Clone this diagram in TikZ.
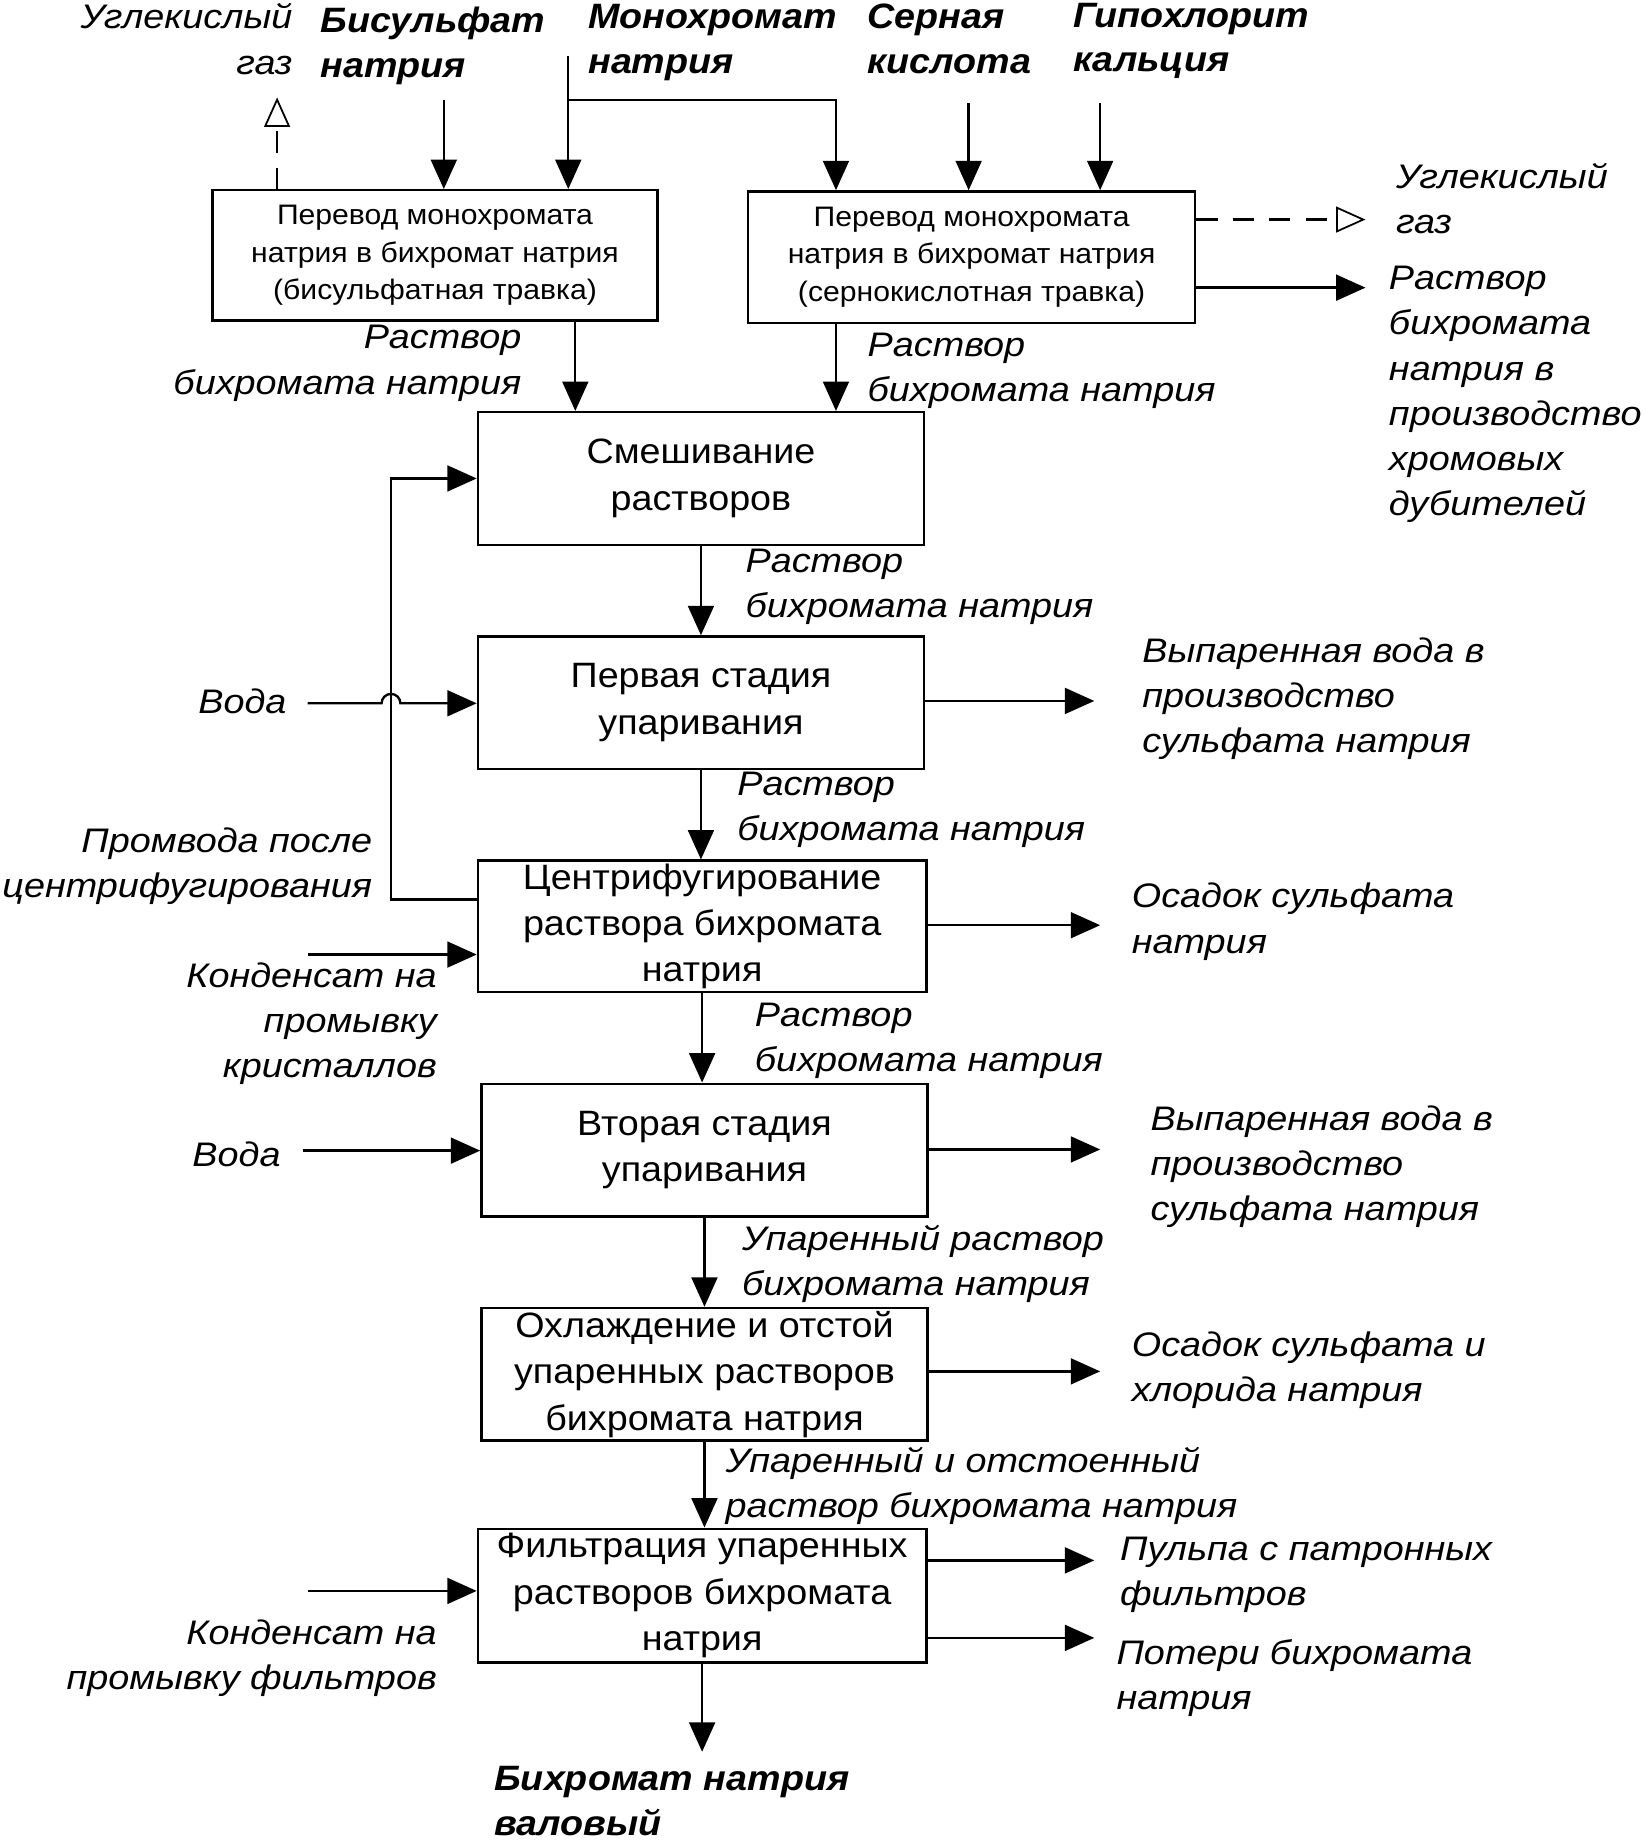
\documentclass[tikz,border=0pt]{standalone}
\usepackage{fontspec}
\setmainfont{Liberation Sans}
\newfontfamily\smallboxfont[FakeStretch=1.07]{Liberation Sans}
\newfontfamily\boxfont[FakeStretch=1.07]{Liberation Sans}
\newfontfamily\labfont[FakeStretch=1.11]{Liberation Sans}
\newfontfamily\blabfont[FakeStretch=1.07]{Liberation Sans}
\usetikzlibrary{arrows.meta,calc}
\newcommand\LS{\rule[-0.2em]{0pt}{1em}}
\begin{document}
\begin{tikzpicture}[x={(1pt,0)},y={(0,-1pt)},
  line width=2pt,
  box/.style={draw,line width=2pt,inner sep=0pt,align=center,
    execute at begin node=\LS,execute at end node=\LS,
    font=\boxfont\fontsize{30}{39.5}\selectfont},
  smallbox/.style={box,font=\smallboxfont\fontsize{24}{32}\selectfont},
  lab/.style={inner sep=0pt,execute at begin node=\LS,execute at end node=\LS,
    font=\labfont\fontsize{29}{38.5}\selectfont\itshape},
  blab/.style={lab,font=\blabfont\fontsize{30}{38}\selectfont\bfseries\itshape},
  arr/.style={-{Triangle[length=25pt,width=22pt]}},
  oarr/.style={-{Triangle[open,length=25pt,width=22pt,line width=1.5pt]}},
  dsh/.style={dash pattern=on 18pt off 13pt}]
\useasboundingbox (0,0) rectangle (1399,1568);

% boxes
\node[smallbox,minimum width=379pt,minimum height=111pt] (b1) at (370.5,217.5)
  {Перевод монохромата\\натрия в бихромат натрия\\(бисульфатная травка)};
\node[smallbox,minimum width=381pt,minimum height=112pt] (b2) at (827.5,219)
  {Перевод монохромата\\натрия в бихромат натрия\\(сернокислотная травка)};
\node[box,minimum width=380pt,minimum height=113pt] (b3) at (597,407.5)
  {Смешивание\\растворов};
\node[box,minimum width=380pt,minimum height=113pt] (b4) at (597,598.5)
  {Первая стадия\\упаривания};
\node[box,minimum width=382pt,minimum height=112pt] (b5) at (598,789)
  {Центрифугирование\\раствора бихромата\\натрия};
\node[box,minimum width=380pt,minimum height=113pt] (b6) at (600,979.5)
  {Вторая стадия\\упаривания};
\node[box,minimum width=380pt,minimum height=113pt] (b7) at (600,1170.5)
  {Охлаждение и отстой\\упаренных растворов\\бихромата натрия};
\node[box,minimum width=382pt,minimum height=114pt] (b8) at (598,1359)
  {Фильтрация упаренных\\растворов бихромата\\натрия};

% top labels
\node[lab,align=right,anchor=east] (co2a) at (250,36) {Углекислый\\газ};
\node[blab,align=left,anchor=west] (bis) at (272,39) {Бисульфат\\натрия};
\node[blab,align=left,anchor=west] (mono) at (500,36) {Монохромат\\натрия};
\node[blab,align=left,anchor=west] (sern) at (738,36) {Серная\\кислота};
\node[blab,align=left,anchor=west] (gip) at (913,35) {Гипохлорит\\кальция};
\node[lab,align=left,anchor=west] (co2b) at (1188,172) {Углекислый\\газ};
\node[lab,align=left,anchor=west] (rbp) at (1182,336)
  {Раствор\\бихромата\\натрия в\\производство\\хромовых\\дубителей};

% flow labels
\node[lab,align=right,anchor=east] (r1) at (445,309.5) {Раствор\\бихромата натрия};
\node[lab,align=left,anchor=west] (r2) at (738,315.5) {Раствор\\бихромата натрия};
\node[lab,align=left,anchor=west] (r3) at (634,500) {Раствор\\бихромата натрия};
\node[lab,align=left,anchor=west] (r4) at (627,690) {Раствор\\бихромата натрия};
\node[lab,align=left,anchor=west] (r5) at (642,886.5) {Раствор\\бихромата натрия};
\node[lab,align=left,anchor=west] (up1) at (631,1076.5) {Упаренный раствор\\бихромата натрия};
\node[lab,align=left,anchor=west] (up2) at (617,1265.5) {Упаренный и отстоенный\\раствор бихромата натрия};

% right labels
\node[lab,align=left,anchor=west] (vv1) at (972,595) {Выпаренная вода в\\производство\\сульфата натрия};
\node[lab,align=left,anchor=west] (os1) at (963,785) {Осадок сульфата\\натрия};
\node[lab,align=left,anchor=west] (vv2) at (979,993.5) {Выпаренная вода в\\производство\\сульфата натрия};
\node[lab,align=left,anchor=west] (os2) at (963,1167) {Осадок сульфата и\\хлорида натрия};
\node[lab,align=left,anchor=west] (pulp) at (953,1341) {Пульпа с патронных\\фильтров};
\node[lab,align=left,anchor=west] (pot) at (950,1429.5) {Потери бихромата\\натрия};

% left labels
\node[lab,anchor=east] (voda1) at (245,599) {Вода};
\node[lab,align=right,anchor=east] (prom) at (318,737.5) {Промвода после\\центрифугирования};
\node[lab,align=right,anchor=east] (kond1) at (373,872) {Конденсат на\\промывку\\кристаллов};
\node[lab,anchor=east] (voda2) at (240,985) {Вода};
\node[lab,align=right,anchor=east] (kond2) at (373,1412.5) {Конденсат на\\промывку фильтров};
\node[blab,align=left,anchor=west] (fin) at (420,1537) {Бихромат натрия\\валовый};

% free ends
\coordinate (tco2a) at (236,83);
\coordinate (sbis) at (378,85);
\coordinate (smono) at (484,48);
\coordinate (kmono) at (484,85);
\coordinate (kmono2) at (712,85);
\coordinate (ssern) at (825,88);
\coordinate (sgip) at (937,88);
\coordinate (tco2b) at (1163,187);
\coordinate (trbp) at (1163,245);
\coordinate (x1) at (490,0);
\coordinate (x2) at (712,0);
\coordinate (tvv1) at (932,597);
\coordinate (tos1) at (937,788);
\coordinate (tvv2) at (937,979);
\coordinate (tos2) at (937,1168);
\coordinate (tpulp) at (932,1329);
\coordinate (tpot) at (932,1395);
\coordinate (tfin) at (600,1492);
\coordinate (svoda1) at (262,599);
\coordinate (rec) at (333,766);
\coordinate (skond1) at (262,813);
\coordinate (svoda2) at (258,980);
\coordinate (skond2) at (262,1355);

% connectors top
\draw[oarr,dsh] (tco2a |- b1.north) -- (tco2a);
\draw[arr] (sbis) -- (sbis |- b1.north);
\draw[arr] (smono) -- (smono |- b1.north);
\draw[arr] (kmono) -- (kmono2) -- (kmono2 |- b2.north);
\draw[arr] (ssern) -- (ssern |- b2.north);
\draw[arr] (sgip) -- (sgip |- b2.north);
\draw[oarr,dsh] (b2.east |- tco2b) -- (tco2b);
\draw[arr] (b2.east |- trbp) -- (trbp);
\draw[arr] (x1 |- b1.south) -- (x1 |- b3.north);
\draw[arr] (x2 |- b2.south) -- (x2 |- b3.north);

% main chain
\draw[arr] (b3.south) -- (b3.south |- b4.north);
\draw[arr] (b4.south) -- (b4.south |- b5.north);
\draw[arr] (b5.south) -- (b5.south |- b6.north);
\draw[arr] (b6.south) -- (b6.south |- b7.north);
\draw[arr] (b7.south) -- (b7.south |- b8.north);
\draw[arr] (b8.south) -- (b8.south |- tfin);

% outputs right
\draw[arr] (b4.east |- tvv1) -- (tvv1);
\draw[arr] (b5.east |- tos1) -- (tos1);
\draw[arr] (b6.east |- tvv2) -- (tvv2);
\draw[arr] (b7.east |- tos2) -- (tos2);
\draw[arr] (b8.east |- tpulp) -- (tpulp);
\draw[arr] (b8.east |- tpot) -- (tpot);

% inputs left
\draw[arr] (b5.west |- rec) -- (rec) -- (rec |- b3.west) -- (b3.west);
\draw[arr] (svoda1) -- ($(rec |- svoda1)+(-8,0)$) arc[start angle=180,end angle=0,radius=8pt] -- (b4.west |- svoda1);
\draw[arr] (skond1) -- (b5.west |- skond1);
\draw[arr] (svoda2) -- (b6.west |- svoda2);
\draw[arr] (skond2) -- (b8.west |- skond2);
\end{tikzpicture}
\end{document}
